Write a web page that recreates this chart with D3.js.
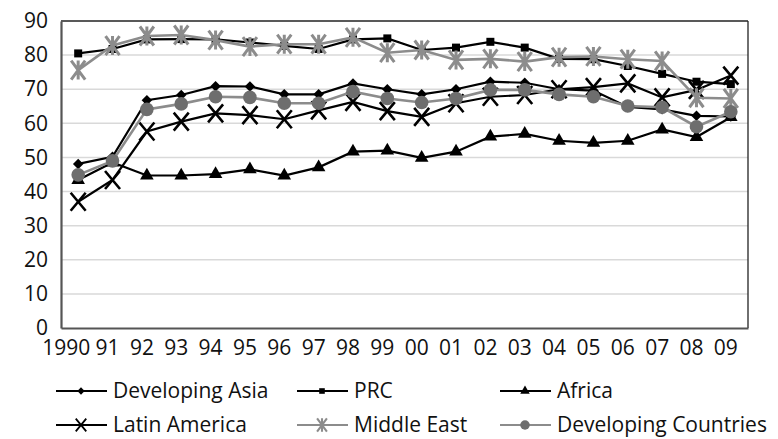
<!DOCTYPE html>
<html>
<head>
<meta charset="UTF-8">
<script src="https://cdnjs.cloudflare.com/ajax/libs/d3/7.8.5/d3.min.js"></script>
<style>
body { margin: 0; background: #fff; }
text { font-family: "Open Sans", sans-serif; fill: #111; }
</style>
</head>
<body>
<script>
// Years on the x axis, as printed
var years = ['1990','91','92','93','94','95','96','97','98','99',
             '00','01','02','03','04','05','06','07','08','09'];
var yTicks = [0, 10, 20, 30, 40, 50, 60, 70, 80, 90];

// Series values
var developingAsia = [48.1,50.2,66.8,68.3,70.9,70.8,68.5,68.5,71.7,70.0,
                      68.5,70.0,72.2,71.9,70.0,69.6,64.8,64.1,62.2,62.0];
var prc            = [80.5,81.8,84.6,84.7,84.6,83.7,82.7,81.8,84.6,84.9,
                      81.5,82.2,83.9,82.2,78.9,78.8,76.8,74.5,72.2,71.5];
var africa         = [43.4,48.5,44.7,44.7,45.1,46.5,44.7,47.1,51.7,52.0,
                      49.9,51.7,56.1,56.9,54.9,54.3,54.9,58.2,56.0,61.8];
var latinAmerica   = [37.0,43.4,57.6,60.5,62.9,62.4,61.2,63.8,66.3,63.6,
                      61.9,65.9,67.8,68.3,70.0,70.6,71.7,67.6,69.8,74.0];
var middleEast     = [75.6,82.8,85.6,85.9,84.4,82.5,83.2,83.2,85.2,80.7,
                      81.5,78.6,78.9,78.1,79.4,79.6,78.8,78.3,67.5,67.3];
var developingCountries = [44.9,49.0,64.1,65.7,67.8,67.6,65.9,65.9,69.3,67.3,
                           66.1,67.3,69.8,69.8,68.5,67.8,65.1,64.7,59.0,63.4];

var seriesNames = ['Developing Asia','PRC','Africa','Latin America','Middle East','Developing Countries'];
var seriesValues = [developingAsia, prc, africa, latinAmerica, middleEast, developingCountries];

var styles = [
  {line: '#000', marker: 'diamond', fill: '#000'},
  {line: '#000', marker: 'square', fill: '#000'},
  {line: '#000', marker: 'triangle', fill: '#000'},
  {line: '#000', marker: 'cross', fill: '#000'},
  {line: '#8c8c8c', marker: 'star', fill: '#8c8c8c'},
  {line: '#8c8c8c', marker: 'circle', fill: '#6e6e6e'}
];

var W = 778, H = 439;
var m = {left: 61, right: 30, top: 21, bottom: 111};
var fs = 21;

var svg = d3.select('body').append('svg').attr('width', W).attr('height', H);

var x = d3.scaleBand().domain(years).range([m.left, W - m.right]);
var y = d3.scaleLinear().domain([0, 90]).range([H - m.bottom, m.top]);
var cx = d => x(d) + x.bandwidth() / 2;

// gridlines
svg.append('g').selectAll('line').data(yTicks.slice(1, -1)).enter().append('line')
    .attr('x1', m.left).attr('x2', W - m.right)
    .attr('y1', d => y(d)).attr('y2', d => y(d))
    .attr('stroke', '#d9d9d9').attr('stroke-width', 1.5);

// frame: top & right thin black, left & bottom darker gray axis
svg.append('line').attr('x1', m.left).attr('x2', W - m.right)
    .attr('y1', y(90)).attr('y2', y(90)).attr('stroke', '#222').attr('stroke-width', 1.3);
svg.append('line').attr('x1', W - m.right).attr('x2', W - m.right)
    .attr('y1', y(90)).attr('y2', y(0)).attr('stroke', '#222').attr('stroke-width', 1.3);

var yAxis = svg.append('g').attr('transform', `translate(${m.left},0)`)
    .call(d3.axisLeft(y).tickValues(yTicks).tickSize(0).tickPadding(13));
var xAxis = svg.append('g').attr('transform', `translate(0,${y(0)})`)
    .call(d3.axisBottom(x).tickSize(0).tickPadding(12));
[yAxis, xAxis].forEach(g => {
  g.select('.domain').attr('stroke', '#555').attr('stroke-width', 2.2);
  g.selectAll('text').attr('font-family', '"Open Sans", sans-serif')
      .attr('font-size', fs).attr('fill', '#111');
});
xAxis.selectAll('text').attr('dx', (d, i) => i === 0 ? -12 : -5);

function drawMarker(g, type, fill, s) {
  if (type === 'circle') {
    g.append('circle').attr('r', 6.8 * s).attr('fill', fill);
  } else if (type === 'diamond') {
    g.append('path').attr('d', d3.symbol(d3.symbolDiamond2, 70 * s * s)()).attr('fill', fill);
  } else if (type === 'square') {
    g.append('path').attr('d', d3.symbol(d3.symbolSquare, 64 * s * s)()).attr('fill', fill);
  } else if (type === 'triangle') {
    g.append('path').attr('d', d3.symbol(d3.symbolTriangle, 80 * s * s)()).attr('fill', fill);
  } else if (type === 'cross') {
    var a = 7.5 * s, b = 9 * s;
    g.append('path').attr('d', `M${-a},${-b}L${a},${b}M${a},${-b}L${-a},${b}`)
        .attr('stroke', fill).attr('stroke-width', 2.6 * s).attr('fill', 'none');
  } else if (type === 'star') {
    var a = 7 * s, b = 9.5 * s;
    g.append('path').attr('d', `M${-a},${-b}L${a},${b}M${a},${-b}L${-a},${b}M0,${-b}L0,${b}`)
        .attr('stroke', fill).attr('stroke-width', 3 * s).attr('fill', 'none');
  }
}

var line = d3.line().x((d, i) => cx(years[i])).y(d => y(d));

seriesValues.forEach((vals, k) => {
  var st = styles[k];
  var g = svg.append('g');
  g.append('path').datum(vals).attr('d', line)
      .attr('fill', 'none').attr('stroke', st.line).attr('stroke-width', k >= 4 ? 2.6 : 2.2);
  g.selectAll('g.pt').data(vals).enter().append('g').attr('class', 'pt')
      .attr('transform', (d, i) => `translate(${cx(years[i])},${y(d)})`)
      .each(function() { drawMarker(d3.select(this), st.marker, st.fill, 1); });
});

// legend: 3 columns x 2 rows
var legX = [56, 297, 500], legY = [391, 425];
seriesNames.forEach((name, k) => {
  var st = styles[k];
  var gx = legX[k % 3], gy = legY[Math.floor(k / 3)];
  var g = svg.append('g').attr('transform', `translate(${gx},${gy})`);
  g.append('line').attr('x1', 0).attr('x2', 51).attr('y1', 0).attr('y2', 0)
      .attr('stroke', st.line).attr('stroke-width', 2.2);
  var mk = g.append('g').attr('transform', 'translate(25,0)');
  drawMarker(mk, st.marker, st.fill, 0.7);
  g.append('text').attr('x', 57).attr('y', 0).attr('dy', '0.35em')
      .attr('font-size', fs).text(name);
});
</script>
</body>
</html>
